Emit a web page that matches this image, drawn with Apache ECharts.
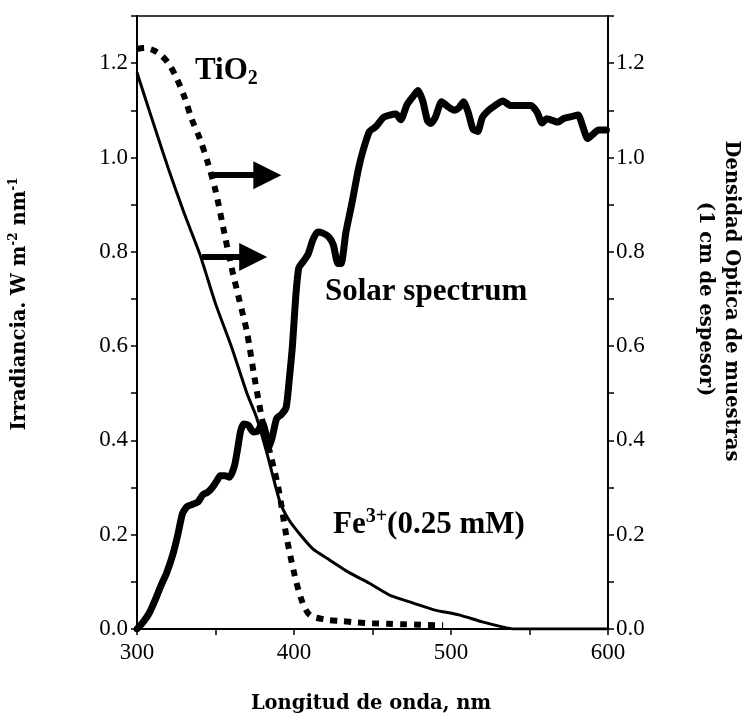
<!DOCTYPE html>
<html>
<head>
<meta charset="utf-8">
<script src="https://cdn.jsdelivr.net/npm/echarts@6/dist/echarts.min.js"></script>
<style>
  html, body { margin: 0; padding: 0; background: #fff; }
  #chart { width: 742px; height: 715px; }
</style>
</head>
<body>
<div id="chart"></div>
<script>
// longitudes de onda (nm) y valores
var solarX = [300,304,308,312,315,319,323,326,329,332,336,339,342,345,348,351,353,356,359,362,364,366,368,371,374,377,380,382,384,386,389,392,395,397,399,401,403,406,409,412,415,418,422,425,428,430,433,437,441,444,448,452,457,461,465,468,472,476,479,482,485,487,490,494,498,502,505,508,511,514,517,520,524,528,533,538,545,551,555,558,561,565,568,572,577,581,584,587,590,594,599];
var solarY = [0.0,0.015,0.035,0.065,0.09,0.12,0.16,0.2,0.245,0.26,0.265,0.27,0.285,0.29,0.3,0.315,0.325,0.325,0.322,0.345,0.38,0.42,0.435,0.432,0.418,0.42,0.437,0.415,0.385,0.405,0.447,0.455,0.47,0.53,0.6,0.7,0.765,0.78,0.795,0.825,0.842,0.84,0.832,0.815,0.775,0.775,0.84,0.905,0.975,1.015,1.055,1.065,1.085,1.09,1.092,1.08,1.112,1.13,1.142,1.12,1.078,1.072,1.085,1.118,1.108,1.1,1.105,1.118,1.095,1.06,1.055,1.085,1.1,1.11,1.12,1.11,1.11,1.11,1.095,1.073,1.082,1.078,1.075,1.083,1.087,1.09,1.065,1.04,1.048,1.058,1.058];

var tio2X = [300,305,310,315,320,325,330,335,340,345,350,355,360,365,370,375,380,385,390,395,400,405,410,420,430,440,450,460,470,480,490,495];
var tio2Y = [1.23,1.232,1.228,1.218,1.2,1.17,1.13,1.08,1.04,0.99,0.93,0.85,0.77,0.7,0.63,0.53,0.44,0.37,0.3,0.2,0.12,0.06,0.03,0.02,0.017,0.014,0.012,0.011,0.01,0.009,0.008,0.008];

var feX = [300,310,320,330,340,350,360,370,376,383,391,397,404,412,421,435,448,462,476,490,505,520,532,540,600];
var feY = [1.18,1.077,0.976,0.882,0.795,0.69,0.6,0.5,0.45,0.37,0.27,0.23,0.2,0.17,0.15,0.12,0.097,0.07,0.055,0.04,0.03,0.015,0.005,0.0,0.0];

// flechas: [x inicio, x fin, y]
var arrowTiO2 = [347.8, 383, 0.9625];
var arrowFe = [341.4, 374, 0.789];

var xTicks = [300, 400, 500, 600];

function pairs(xs, ys) {
  return xs.map(function (x, i) { return [x, ys[i]]; });
}

var tickFont = { fontFamily: 'Liberation Serif', fontSize: 23, color: '#000' };
var titleFont = 'bold 19.5px "DejaVu Serif"';
var noteFont = 'bold 31px "Liberation Serif"';

function yLabel(v) {
  var k = Math.round(v * 10);
  return k % 2 === 0 && k <= 12 ? (k / 10).toFixed(1) : '';
}

var chart = echarts.init(document.getElementById('chart'));
chart.setOption({
  animation: false,
  backgroundColor: '#fff',
  grid: { left: 137, right: 134, top: 16, bottom: 86, show: true, borderColor: '#000', borderWidth: 1.5 },
  xAxis: {
    type: 'value', min: 300, max: 600, interval: 50,
    axisLine: { show: true, lineStyle: { color: '#000', width: 2 } },
    axisTick: { show: true, length: 6, lineStyle: { color: '#000', width: 1.5 } },
    splitLine: { show: false },
    axisLabel: Object.assign({ margin: 12, formatter: function (v) { return xTicks.indexOf(v) >= 0 ? String(v) : ''; } }, tickFont)
  },
  yAxis: [{
    type: 'value', min: 0, max: 1.3, interval: 0.1, position: 'left',
    axisLine: { show: true, lineStyle: { color: '#000', width: 2 } },
    axisTick: { show: true, length: 6, lineStyle: { color: '#000', width: 1.5 } },
    splitLine: { show: false },
    axisLabel: Object.assign({ margin: 9, formatter: yLabel }, tickFont)
  }, {
    type: 'value', min: 0, max: 1.3, interval: 0.1, position: 'right',
    axisLine: { show: true, lineStyle: { color: '#000', width: 2 } },
    axisTick: { show: true, length: 6, lineStyle: { color: '#000', width: 1.5 } },
    splitLine: { show: false },
    axisLabel: Object.assign({ margin: 8, formatter: yLabel }, tickFont)
  }],
  series: [{
    name: 'Fe3+',
    type: 'line',
    data: pairs(feX, feY),
    showSymbol: false,
    smooth: 0.2,
    lineStyle: { color: '#000', width: 3 },
    markLine: {
      silent: true,
      symbol: ['none', 'triangle'],
      symbolSize: 28,
      label: { show: false },
      lineStyle: { color: '#000', width: 6, type: 'solid' },
      data: [
        [{ coord: [arrowTiO2[0], arrowTiO2[2]] }, { coord: [arrowTiO2[1], arrowTiO2[2]] }],
        [{ coord: [arrowFe[0], arrowFe[2]] }, { coord: [arrowFe[1], arrowFe[2]] }]
      ]
    }
  }, {
    name: 'TiO2',
    type: 'line',
    data: pairs(tio2X, tio2Y),
    showSymbol: false,
    smooth: 0.3,
    lineStyle: { color: '#000', width: 6, type: [7, 7], cap: 'butt' }
  }, {
    name: 'Solar spectrum',
    type: 'line',
    data: pairs(solarX, solarY),
    showSymbol: false,
    smooth: 0.2,
    lineStyle: { color: '#000', width: 7, cap: 'round', join: 'round' }
  }],
  graphic: [
    { type: 'text', x: 195, y: 71, style: {
      text: 'TiO{s|2}', font: noteFont, fill: '#000', verticalAlign: 'middle', lineHeight: 36,
      rich: { s: { font: 'bold 20px "Liberation Serif"', lineHeight: 14, verticalAlign: 'bottom' } } } },
    { type: 'text', x: 325, y: 292, style: {
      text: 'Solar spectrum', font: noteFont, fill: '#000', verticalAlign: 'middle' } },
    { type: 'text', x: 333, y: 525, style: {
      text: 'Fe{p|3+}(0.25 mM)', font: noteFont, fill: '#000', verticalAlign: 'middle', lineHeight: 36,
      rich: { p: { font: 'bold 20px "Liberation Serif"', lineHeight: 14, verticalAlign: 'top' } } } },
    { type: 'text', x: 371, y: 704, style: {
      text: 'Longitud de onda, nm', font: titleFont, fill: '#000', align: 'center', verticalAlign: 'middle' } },
    { type: 'text', x: 20, y: 304, rotation: Math.PI / 2, style: {
      text: 'Irradiancia. W m{p|-2} nm{p|-1}', font: titleFont, fill: '#000', align: 'center', verticalAlign: 'middle', lineHeight: 24,
      rich: { p: { font: 'bold 12px "DejaVu Serif"', lineHeight: 10, verticalAlign: 'top' } } } },
    { type: 'text', x: 731, y: 301, rotation: -Math.PI / 2, style: {
      text: 'Densidad Óptica de muestras', font: titleFont, fill: '#000', align: 'center', verticalAlign: 'middle' } },
    { type: 'text', x: 705, y: 299, rotation: -Math.PI / 2, style: {
      text: '(1 cm de espesor)', font: titleFont, fill: '#000', align: 'center', verticalAlign: 'middle' } }
  ]
});
</script>
</body>
</html>
